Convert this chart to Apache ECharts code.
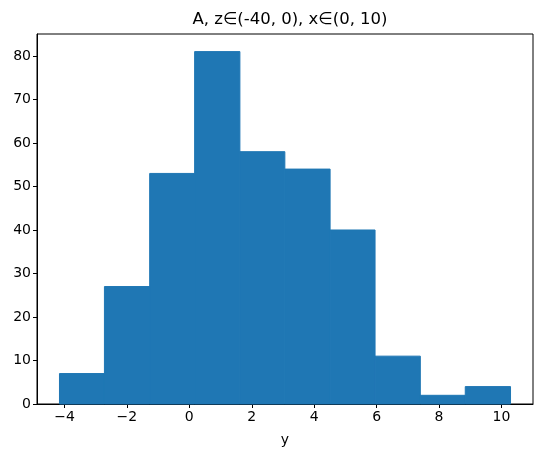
<!DOCTYPE html>
<html>
<head>
<meta charset="utf-8">
<script src="https://cdn.jsdelivr.net/npm/echarts@6/dist/echarts.min.js"></script>
<style>
  html, body { margin: 0; padding: 0; background: #fff; }
  #main { width: 543px; height: 457px; }
</style>
</head>
<body>
<div id="main"></div>
<script>
// bin edges and counts
var binEdges = [-4.16, -2.72, -1.27, 0.17, 1.62, 3.06, 4.51, 5.95, 7.40, 8.84, 10.29];
var counts = [7, 27, 53, 81, 58, 54, 40, 11, 2, 4];
var xTicks = [-4, -2, 0, 2, 4, 6, 8, 10];
var yTicks = [0, 10, 20, 30, 40, 50, 60, 70, 80];

var chart = echarts.init(document.getElementById('main'), null, { renderer: 'canvas' });

// one row per bar: [left edge, right edge, count]
var bars = counts.map(function (c, i) {
  return [binEdges[i], binEdges[i + 1], c];
});

var font = 'DejaVu Sans';

var option = {
  animation: false,
  title: {
    text: 'A, z\u2208(-40, 0), x\u2208(0, 10)',
    left: 285,
    textAlign: 'center',
    top: 6,
    textStyle: { fontFamily: font, fontSize: 16.5, fontWeight: 'normal', color: '#000' }
  },
  grid: {
    left: 37,
    right: 10,
    top: 34,
    bottom: 53,
    show: true,
    borderColor: '#000',
    borderWidth: 1
  },
  xAxis: {
    type: 'value',
    min: -4.88,
    max: 11.01,
    name: 'y',
    nameLocation: 'middle',
    nameGap: 29,
    nameTextStyle: { fontFamily: font, fontSize: 14, color: '#000' },
    axisLine: { show: true, onZero: false, lineStyle: { color: '#000', width: 1 } },
    axisTick: { show: true, length: 4, customValues: xTicks, lineStyle: { color: '#000' } },
    axisLabel: {
      customValues: xTicks,
      fontFamily: font,
      fontSize: 14,
      color: '#000',
      margin: 6,
      formatter: function (v) { return v < 0 ? '\u2212' + Math.abs(v) : String(v); }
    },
    splitLine: { show: false }
  },
  yAxis: {
    type: 'value',
    min: 0,
    max: 85.05,
    axisLine: { show: true, onZero: false, lineStyle: { color: '#000', width: 1 } },
    axisTick: { show: true, length: 4, customValues: yTicks, lineStyle: { color: '#000' } },
    axisLabel: {
      customValues: yTicks,
      fontFamily: font,
      fontSize: 14,
      color: '#000',
      margin: 6
    },
    splitLine: { show: false }
  },
  series: [{
    type: 'custom',
    data: bars,
    renderItem: function (params, api) {
      var p0 = api.coord([api.value(0), 0]);
      var p1 = api.coord([api.value(1), api.value(2)]);
      return {
        type: 'rect',
        shape: { x: p0[0], y: p1[1], width: p1[0] - p0[0], height: p0[1] - p1[1] },
        style: { fill: '#1f77b4', stroke: '#1f77b4', lineWidth: 1 }
      };
    }
  }]
};

chart.setOption(option);
</script>
</body>
</html>
